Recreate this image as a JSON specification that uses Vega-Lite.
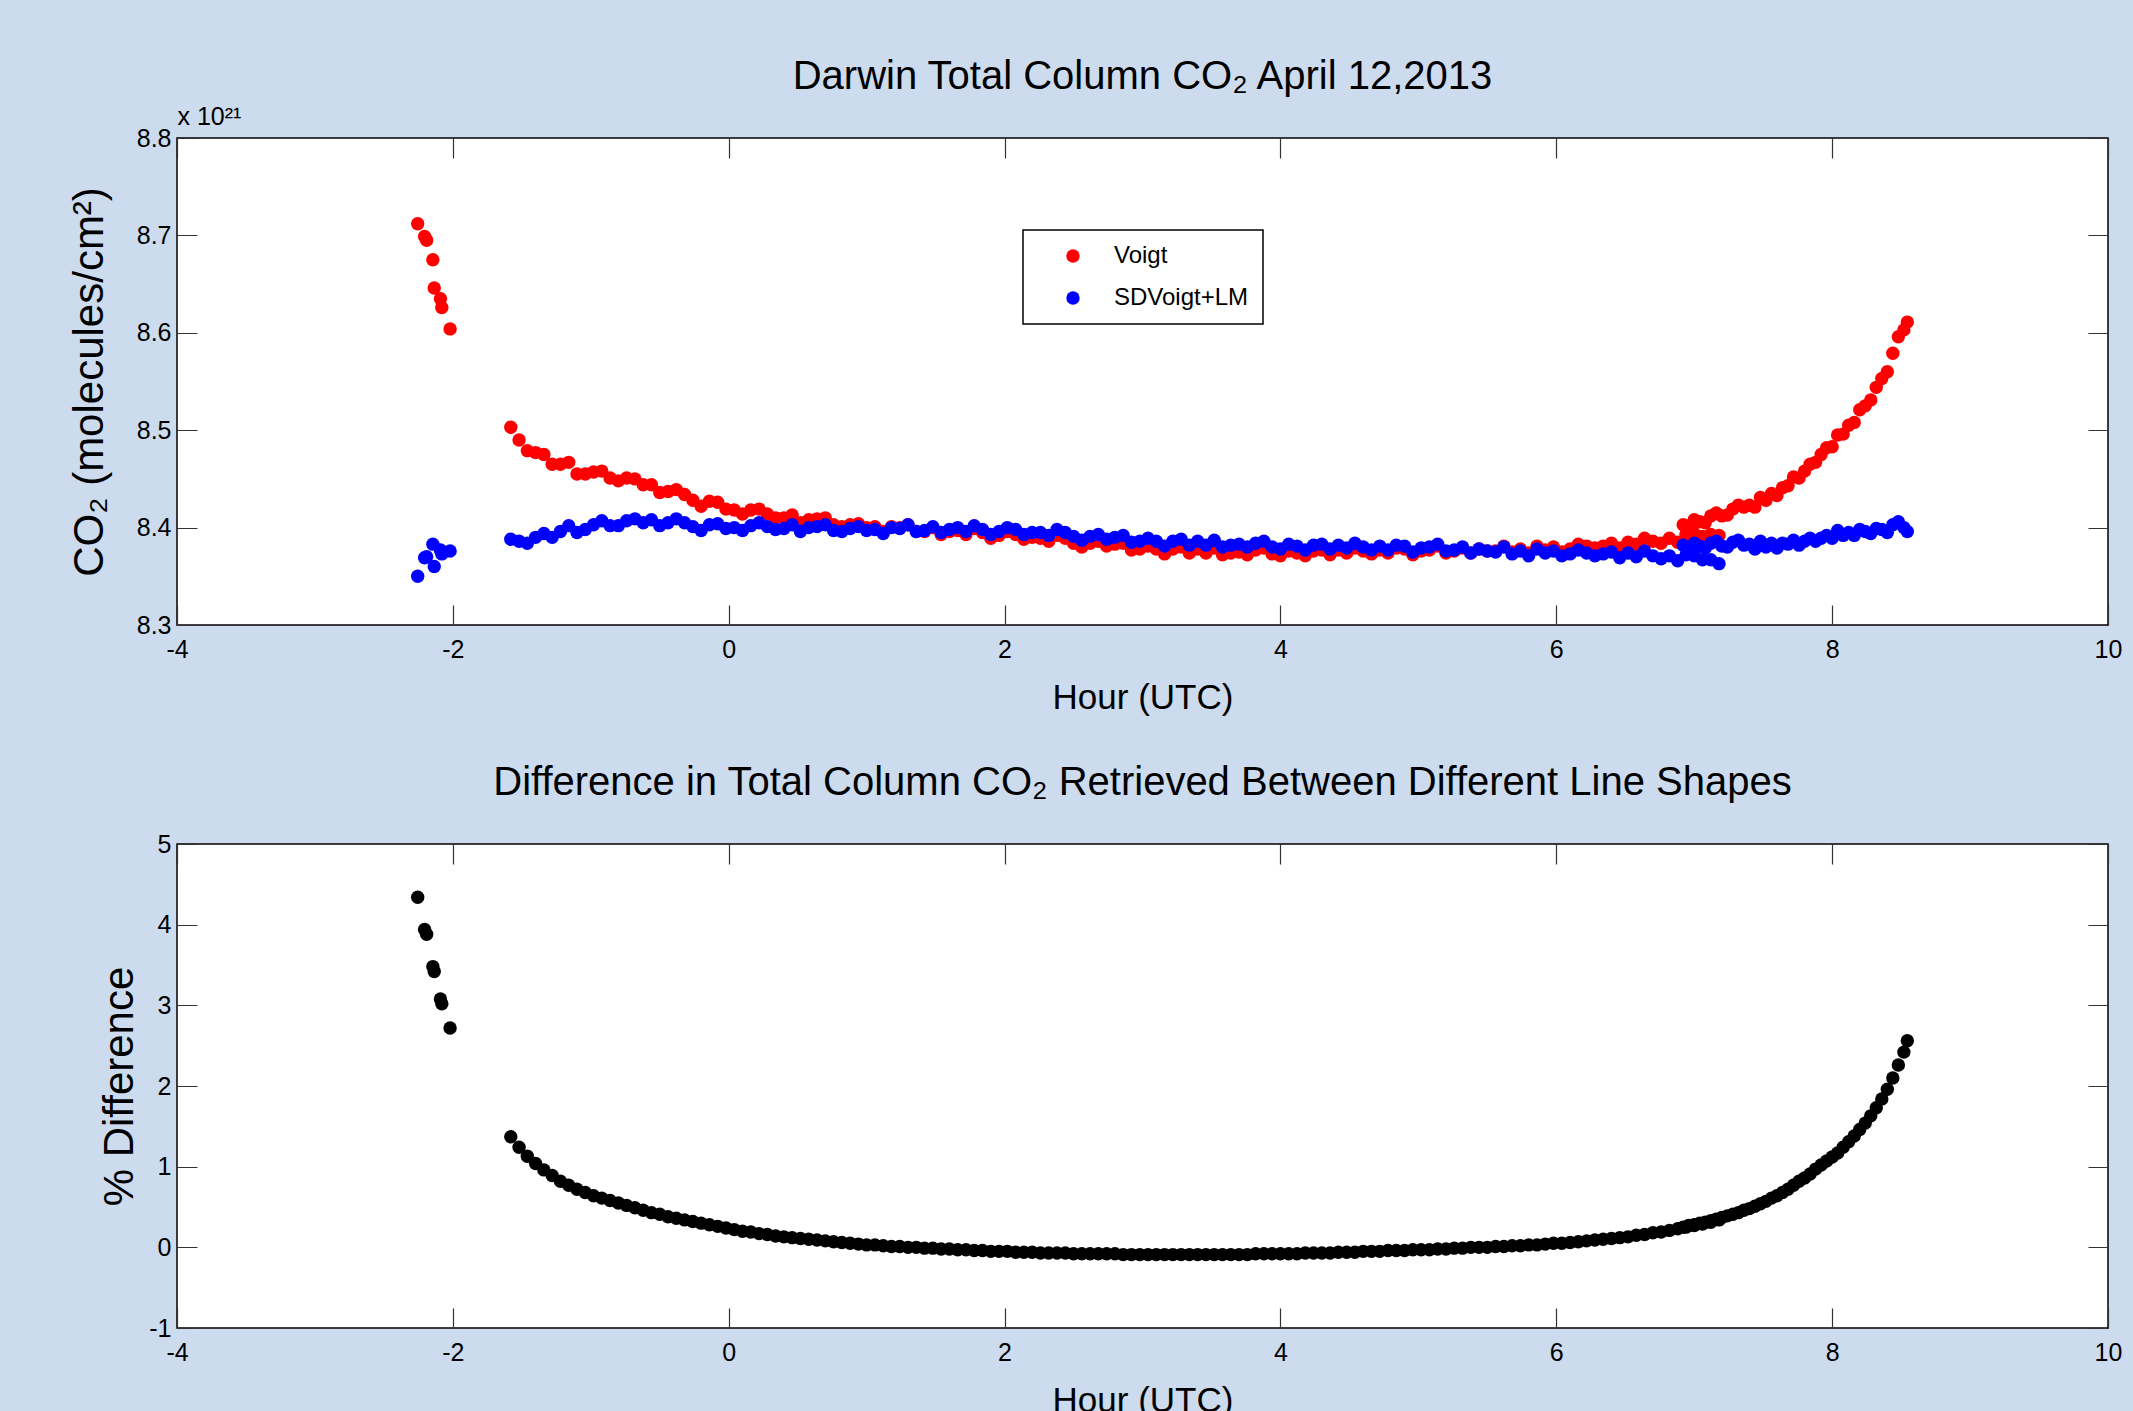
{
  "$schema": "https://vega.github.io/schema/vega-lite/v6.json",
  "background": "#ccdcee",
  "padding": {"left": 67, "top": 56, "right": 10, "bottom": 0},
  "spacing": 46,
  "config": {
    "locale": {"number": {"decimal": ".", "thousands": ",", "grouping": [3], "currency": ["$", ""], "minus": "-"}},
    "font": "Liberation Sans",
    "view": {"stroke": "#000000", "strokeWidth": 1.5, "fill": "#ffffff"},
    "title": {"font": "Liberation Sans", "fontSize": 40, "fontWeight": "normal", "color": "#000000", "anchor": "middle", "frame": "group", "baseline": "alphabetic"},
    "axis": {"domain": false, "ticks": false, "grid": true, "gridColor": "#333333", "gridWidth": 1.2, "gridOpacity": 1, "labelFont": "Liberation Sans", "labelFontSize": 25, "labelColor": "#000000", "labelFlush": false, "labelOverlap": false, "titleColor": "#000000", "titleFontWeight": "normal"},
    "axisX": {"labelPadding": 12, "titleFont": "Liberation Sans", "titleFontSize": 35, "titlePadding": 18},
    "axisY": {"labelPadding": 6, "titleFont": "Liberation Sans", "titleFontSize": 42},
    "legend": {"orient": "none", "legendX": 846, "legendY": 92, "padding": 14, "strokeColor": "#000000", "fillColor": "#ffffff", "strokeWidth": 1.5, "labelFont": "Liberation Sans", "labelFontSize": 24, "labelColor": "#000000", "symbolType": "circle", "symbolSize": 180, "symbolOffset": 24, "labelOffset": 29, "rowPadding": 18, "symbolStrokeWidth": 0}
  },
  "datasets": {
    "voigt": [
      {"h":-2.255,"v":8.712},{"h":-2.205,"v":8.699},{"h":-2.19,"v":8.695},{"h":-2.145,"v":8.675},{"h":-2.135,"v":8.646},{"h":-2.09,"v":8.635},{"h":-2.08,"v":8.626},{"h":-2.02,"v":8.604},
      {"h":-1.58,"v":8.503},{"h":-1.52,"v":8.49},{"h":-1.46,"v":8.479},{"h":-1.4,"v":8.477},{"h":-1.34,"v":8.475},{"h":-1.28,"v":8.465},{"h":-1.22,"v":8.465},{"h":-1.16,"v":8.467},{"h":-1.1,"v":8.455},{"h":-1.04,"v":8.455},
      {"h":-0.98,"v":8.457},{"h":-0.92,"v":8.458},{"h":-0.86,"v":8.451},{"h":-0.8,"v":8.448},{"h":-0.74,"v":8.451},{"h":-0.68,"v":8.45},{"h":-0.62,"v":8.444},{"h":-0.56,"v":8.444},{"h":-0.5,"v":8.436},{"h":-0.44,"v":8.437},
      {"h":-0.38,"v":8.439},{"h":-0.32,"v":8.434},{"h":-0.26,"v":8.428},{"h":-0.2,"v":8.422},{"h":-0.14,"v":8.427},{"h":-0.08,"v":8.426},{"h":-0.02,"v":8.419},{"h":0.04,"v":8.418},{"h":0.1,"v":8.414},{"h":0.16,"v":8.418},
      {"h":0.22,"v":8.419},{"h":0.28,"v":8.414},{"h":0.34,"v":8.41},{"h":0.4,"v":8.41},{"h":0.46,"v":8.413},{"h":0.52,"v":8.405},{"h":0.58,"v":8.408},{"h":0.64,"v":8.409},{"h":0.7,"v":8.41},{"h":0.76,"v":8.403},
      {"h":0.82,"v":8.401},{"h":0.88,"v":8.403},{"h":0.94,"v":8.404},{"h":1.0,"v":8.4},{"h":1.06,"v":8.401},{"h":1.12,"v":8.396},{"h":1.18,"v":8.401},{"h":1.24,"v":8.4},{"h":1.3,"v":8.403},{"h":1.36,"v":8.396},
      {"h":1.42,"v":8.396},{"h":1.48,"v":8.4},{"h":1.54,"v":8.393},{"h":1.6,"v":8.396},{"h":1.66,"v":8.397},{"h":1.72,"v":8.393},{"h":1.78,"v":8.399},{"h":1.84,"v":8.395},{"h":1.9,"v":8.389},{"h":1.96,"v":8.392},
      {"h":2.02,"v":8.396},{"h":2.08,"v":8.393},{"h":2.14,"v":8.388},{"h":2.2,"v":8.39},{"h":2.26,"v":8.389},{"h":2.32,"v":8.386},{"h":2.38,"v":8.392},{"h":2.44,"v":8.389},{"h":2.5,"v":8.384},{"h":2.56,"v":8.38},
      {"h":2.62,"v":8.384},{"h":2.68,"v":8.386},{"h":2.74,"v":8.381},{"h":2.8,"v":8.383},{"h":2.86,"v":8.384},{"h":2.92,"v":8.377},{"h":2.98,"v":8.378},{"h":3.04,"v":8.381},{"h":3.1,"v":8.378},{"h":3.16,"v":8.373},
      {"h":3.22,"v":8.378},{"h":3.28,"v":8.38},{"h":3.34,"v":8.374},{"h":3.4,"v":8.378},{"h":3.46,"v":8.374},{"h":3.52,"v":8.379},{"h":3.58,"v":8.372},{"h":3.64,"v":8.374},{"h":3.7,"v":8.375},{"h":3.76,"v":8.372},
      {"h":3.82,"v":8.377},{"h":3.88,"v":8.379},{"h":3.94,"v":8.373},{"h":4.0,"v":8.371},{"h":4.06,"v":8.376},{"h":4.12,"v":8.374},{"h":4.18,"v":8.371},{"h":4.24,"v":8.376},{"h":4.3,"v":8.377},{"h":4.36,"v":8.372},
      {"h":4.42,"v":8.377},{"h":4.48,"v":8.374},{"h":4.54,"v":8.379},{"h":4.6,"v":8.376},{"h":4.66,"v":8.373},{"h":4.72,"v":8.377},{"h":4.78,"v":8.374},{"h":4.84,"v":8.379},{"h":4.9,"v":8.378},{"h":4.96,"v":8.372},
      {"h":5.02,"v":8.376},{"h":5.08,"v":8.377},{"h":5.14,"v":8.381},{"h":5.2,"v":8.374},{"h":5.26,"v":8.376},{"h":5.32,"v":8.379},{"h":5.38,"v":8.374},{"h":5.44,"v":8.378},{"h":5.5,"v":8.376},{"h":5.56,"v":8.376},
      {"h":5.62,"v":8.381},{"h":5.68,"v":8.375},{"h":5.74,"v":8.378},{"h":5.8,"v":8.374},{"h":5.86,"v":8.381},{"h":5.92,"v":8.377},{"h":5.98,"v":8.38},{"h":6.04,"v":8.375},{"h":6.1,"v":8.378},{"h":6.16,"v":8.383},
      {"h":6.22,"v":8.381},{"h":6.28,"v":8.379},{"h":6.34,"v":8.381},{"h":6.4,"v":8.384},{"h":6.46,"v":8.379},{"h":6.52,"v":8.385},{"h":6.58,"v":8.383},{"h":6.64,"v":8.389},{"h":6.7,"v":8.386},{"h":6.76,"v":8.384},
      {"h":6.82,"v":8.389},{"h":6.88,"v":8.385},{"h":6.94,"v":8.393},{"h":7.0,"v":8.394},{"h":7.06,"v":8.391},{"h":7.12,"v":8.393},{"h":7.18,"v":8.392},
      {"h":6.92,"v":8.403},{"h":6.96,"v":8.402},{"h":7.0,"v":8.408},{"h":7.04,"v":8.406},{"h":7.08,"v":8.405},{"h":7.12,"v":8.412},{"h":7.16,"v":8.415},{"h":7.2,"v":8.412},{"h":7.24,"v":8.413},{"h":7.28,"v":8.419},
      {"h":7.32,"v":8.423},{"h":7.36,"v":8.421},{"h":7.4,"v":8.423},{"h":7.44,"v":8.421},{"h":7.48,"v":8.431},{"h":7.52,"v":8.428},{"h":7.56,"v":8.435},{"h":7.6,"v":8.433},{"h":7.64,"v":8.441},{"h":7.68,"v":8.443},
      {"h":7.72,"v":8.452},{"h":7.76,"v":8.451},{"h":7.8,"v":8.458},{"h":7.84,"v":8.465},{"h":7.88,"v":8.467},{"h":7.92,"v":8.475},{"h":7.96,"v":8.482},{"h":8.0,"v":8.483},{"h":8.04,"v":8.495},{"h":8.08,"v":8.496},
      {"h":8.12,"v":8.505},{"h":8.16,"v":8.508},{"h":8.2,"v":8.521},{"h":8.24,"v":8.525},{"h":8.28,"v":8.531},{"h":8.32,"v":8.544},{"h":8.36,"v":8.553},{"h":8.4,"v":8.56},{"h":8.44,"v":8.579},{"h":8.48,"v":8.596},
      {"h":8.52,"v":8.603},{"h":8.545,"v":8.611}
    ],
    "sdvoigt": [
      {"h":-2.255,"v":8.35},{"h":-2.205,"v":8.369},{"h":-2.19,"v":8.37},{"h":-2.145,"v":8.383},{"h":-2.135,"v":8.36},{"h":-2.09,"v":8.377},{"h":-2.08,"v":8.373},{"h":-2.02,"v":8.376},
      {"h":-1.58,"v":8.388},{"h":-1.52,"v":8.386},{"h":-1.46,"v":8.384},{"h":-1.4,"v":8.39},{"h":-1.34,"v":8.394},{"h":-1.28,"v":8.39},{"h":-1.22,"v":8.396},{"h":-1.16,"v":8.402},{"h":-1.1,"v":8.395},{"h":-1.04,"v":8.398},
      {"h":-0.98,"v":8.403},{"h":-0.92,"v":8.407},{"h":-0.86,"v":8.402},{"h":-0.8,"v":8.402},{"h":-0.74,"v":8.407},{"h":-0.68,"v":8.409},{"h":-0.62,"v":8.405},{"h":-0.56,"v":8.408},{"h":-0.5,"v":8.402},{"h":-0.44,"v":8.405},
      {"h":-0.38,"v":8.409},{"h":-0.32,"v":8.405},{"h":-0.26,"v":8.401},{"h":-0.2,"v":8.397},{"h":-0.14,"v":8.403},{"h":-0.08,"v":8.404},{"h":-0.02,"v":8.399},{"h":0.04,"v":8.4},{"h":0.1,"v":8.397},{"h":0.16,"v":8.402},
      {"h":0.22,"v":8.405},{"h":0.28,"v":8.401},{"h":0.34,"v":8.398},{"h":0.4,"v":8.399},{"h":0.46,"v":8.403},{"h":0.52,"v":8.396},{"h":0.58,"v":8.4},{"h":0.64,"v":8.401},{"h":0.7,"v":8.403},{"h":0.76,"v":8.397},
      {"h":0.82,"v":8.396},{"h":0.88,"v":8.399},{"h":0.94,"v":8.401},{"h":1.0,"v":8.397},{"h":1.06,"v":8.398},{"h":1.12,"v":8.394},{"h":1.18,"v":8.4},{"h":1.24,"v":8.399},{"h":1.3,"v":8.403},{"h":1.36,"v":8.396},
      {"h":1.42,"v":8.397},{"h":1.48,"v":8.401},{"h":1.54,"v":8.395},{"h":1.6,"v":8.398},{"h":1.66,"v":8.4},{"h":1.72,"v":8.396},{"h":1.78,"v":8.402},{"h":1.84,"v":8.398},{"h":1.9,"v":8.393},{"h":1.96,"v":8.396},
      {"h":2.02,"v":8.4},{"h":2.08,"v":8.398},{"h":2.14,"v":8.393},{"h":2.2,"v":8.395},{"h":2.26,"v":8.395},{"h":2.32,"v":8.392},{"h":2.38,"v":8.398},{"h":2.44,"v":8.395},{"h":2.5,"v":8.391},{"h":2.56,"v":8.387},
      {"h":2.62,"v":8.391},{"h":2.68,"v":8.393},{"h":2.74,"v":8.388},{"h":2.8,"v":8.39},{"h":2.86,"v":8.392},{"h":2.92,"v":8.385},{"h":2.98,"v":8.386},{"h":3.04,"v":8.389},{"h":3.1,"v":8.386},{"h":3.16,"v":8.381},
      {"h":3.22,"v":8.386},{"h":3.28,"v":8.388},{"h":3.34,"v":8.382},{"h":3.4,"v":8.386},{"h":3.46,"v":8.382},{"h":3.52,"v":8.387},{"h":3.58,"v":8.38},{"h":3.64,"v":8.382},{"h":3.7,"v":8.383},{"h":3.76,"v":8.38},
      {"h":3.82,"v":8.384},{"h":3.88,"v":8.386},{"h":3.94,"v":8.38},{"h":4.0,"v":8.378},{"h":4.06,"v":8.383},{"h":4.12,"v":8.381},{"h":4.18,"v":8.377},{"h":4.24,"v":8.382},{"h":4.3,"v":8.383},{"h":4.36,"v":8.378},
      {"h":4.42,"v":8.382},{"h":4.48,"v":8.379},{"h":4.54,"v":8.384},{"h":4.6,"v":8.38},{"h":4.66,"v":8.377},{"h":4.72,"v":8.381},{"h":4.78,"v":8.377},{"h":4.84,"v":8.382},{"h":4.9,"v":8.381},{"h":4.96,"v":8.375},
      {"h":5.02,"v":8.379},{"h":5.08,"v":8.38},{"h":5.14,"v":8.383},{"h":5.2,"v":8.376},{"h":5.26,"v":8.377},{"h":5.32,"v":8.38},{"h":5.38,"v":8.374},{"h":5.44,"v":8.378},{"h":5.5,"v":8.376},{"h":5.56,"v":8.375},
      {"h":5.62,"v":8.38},{"h":5.68,"v":8.373},{"h":5.74,"v":8.376},{"h":5.8,"v":8.371},{"h":5.86,"v":8.378},{"h":5.92,"v":8.374},{"h":5.98,"v":8.376},{"h":6.04,"v":8.371},{"h":6.1,"v":8.373},{"h":6.16,"v":8.377},
      {"h":6.22,"v":8.374},{"h":6.28,"v":8.371},{"h":6.34,"v":8.373},{"h":6.4,"v":8.375},{"h":6.46,"v":8.369},{"h":6.52,"v":8.374},{"h":6.58,"v":8.37},{"h":6.64,"v":8.376},{"h":6.7,"v":8.371},{"h":6.76,"v":8.368},
      {"h":6.82,"v":8.371},{"h":6.88,"v":8.366},{"h":6.94,"v":8.372},{"h":7.0,"v":8.371},{"h":7.06,"v":8.367},{"h":7.12,"v":8.367},{"h":7.18,"v":8.363},
      {"h":6.92,"v":8.382},{"h":6.96,"v":8.379},{"h":7.0,"v":8.384},{"h":7.04,"v":8.381},{"h":7.08,"v":8.379},{"h":7.12,"v":8.384},{"h":7.16,"v":8.386},{"h":7.2,"v":8.381},{"h":7.24,"v":8.38},{"h":7.28,"v":8.385},
      {"h":7.32,"v":8.387},{"h":7.36,"v":8.382},{"h":7.4,"v":8.383},{"h":7.44,"v":8.378},{"h":7.48,"v":8.386},{"h":7.52,"v":8.38},{"h":7.56,"v":8.384},{"h":7.6,"v":8.379},{"h":7.64,"v":8.384},{"h":7.68,"v":8.383},
      {"h":7.72,"v":8.387},{"h":7.76,"v":8.382},{"h":7.8,"v":8.386},{"h":7.84,"v":8.389},{"h":7.88,"v":8.386},{"h":7.92,"v":8.389},{"h":7.96,"v":8.392},{"h":8.0,"v":8.389},{"h":8.04,"v":8.397},{"h":8.08,"v":8.392},
      {"h":8.12,"v":8.395},{"h":8.16,"v":8.392},{"h":8.2,"v":8.398},{"h":8.24,"v":8.396},{"h":8.28,"v":8.394},{"h":8.32,"v":8.399},{"h":8.36,"v":8.398},{"h":8.4,"v":8.395},{"h":8.44,"v":8.403},{"h":8.48,"v":8.406},
      {"h":8.52,"v":8.4},{"h":8.545,"v":8.396}
    ],
    "diff": [
      {"h":-2.255,"v":4.34},{"h":-2.205,"v":3.94},{"h":-2.19,"v":3.88},{"h":-2.145,"v":3.48},{"h":-2.135,"v":3.42},{"h":-2.09,"v":3.08},{"h":-2.08,"v":3.02},{"h":-2.02,"v":2.72},
      {"h":-1.58,"v":1.37},{"h":-1.52,"v":1.24},{"h":-1.46,"v":1.13},{"h":-1.4,"v":1.04},{"h":-1.34,"v":0.96},{"h":-1.28,"v":0.89},{"h":-1.22,"v":0.82},{"h":-1.16,"v":0.77},{"h":-1.1,"v":0.72},{"h":-1.04,"v":0.68},
      {"h":-0.98,"v":0.64},{"h":-0.92,"v":0.61},{"h":-0.86,"v":0.58},{"h":-0.8,"v":0.55},{"h":-0.74,"v":0.52},{"h":-0.68,"v":0.49},{"h":-0.62,"v":0.46},{"h":-0.56,"v":0.43},{"h":-0.5,"v":0.41},{"h":-0.44,"v":0.38},
      {"h":-0.38,"v":0.36},{"h":-0.32,"v":0.34},{"h":-0.26,"v":0.32},{"h":-0.2,"v":0.3},{"h":-0.14,"v":0.28},{"h":-0.08,"v":0.26},{"h":-0.02,"v":0.24},{"h":0.04,"v":0.22},{"h":0.1,"v":0.2},{"h":0.16,"v":0.19},
      {"h":0.22,"v":0.17},{"h":0.28,"v":0.16},{"h":0.34,"v":0.14},{"h":0.4,"v":0.13},{"h":0.46,"v":0.12},{"h":0.52,"v":0.11},{"h":0.58,"v":0.1},{"h":0.64,"v":0.09},{"h":0.7,"v":0.08},{"h":0.76,"v":0.07},
      {"h":0.82,"v":0.06},{"h":0.88,"v":0.05},{"h":0.94,"v":0.04},{"h":1.0,"v":0.03},{"h":1.06,"v":0.03},{"h":1.12,"v":0.02},{"h":1.18,"v":0.01},{"h":1.24,"v":0.01},{"h":1.3,"v":0.0},{"h":1.36,"v":0.0},
      {"h":1.42,"v":-0.01},{"h":1.48,"v":-0.01},{"h":1.54,"v":-0.02},{"h":1.6,"v":-0.02},{"h":1.66,"v":-0.03},{"h":1.72,"v":-0.03},{"h":1.78,"v":-0.04},{"h":1.84,"v":-0.04},{"h":1.9,"v":-0.05},{"h":1.96,"v":-0.05},
      {"h":2.02,"v":-0.05},{"h":2.08,"v":-0.06},{"h":2.14,"v":-0.06},{"h":2.2,"v":-0.06},{"h":2.26,"v":-0.07},{"h":2.32,"v":-0.07},{"h":2.38,"v":-0.07},{"h":2.44,"v":-0.07},{"h":2.5,"v":-0.08},{"h":2.56,"v":-0.08},
      {"h":2.62,"v":-0.08},{"h":2.68,"v":-0.08},{"h":2.74,"v":-0.08},{"h":2.8,"v":-0.08},{"h":2.86,"v":-0.09},{"h":2.92,"v":-0.09},{"h":2.98,"v":-0.09},{"h":3.04,"v":-0.09},{"h":3.1,"v":-0.09},{"h":3.16,"v":-0.09},
      {"h":3.22,"v":-0.09},{"h":3.28,"v":-0.09},{"h":3.34,"v":-0.09},{"h":3.4,"v":-0.09},{"h":3.46,"v":-0.09},{"h":3.52,"v":-0.09},{"h":3.58,"v":-0.09},{"h":3.64,"v":-0.09},{"h":3.7,"v":-0.09},{"h":3.76,"v":-0.09},
      {"h":3.82,"v":-0.08},{"h":3.88,"v":-0.08},{"h":3.94,"v":-0.08},{"h":4.0,"v":-0.08},{"h":4.06,"v":-0.08},{"h":4.12,"v":-0.08},{"h":4.18,"v":-0.07},{"h":4.24,"v":-0.07},{"h":4.3,"v":-0.07},{"h":4.36,"v":-0.07},
      {"h":4.42,"v":-0.06},{"h":4.48,"v":-0.06},{"h":4.54,"v":-0.06},{"h":4.6,"v":-0.05},{"h":4.66,"v":-0.05},{"h":4.72,"v":-0.05},{"h":4.78,"v":-0.04},{"h":4.84,"v":-0.04},{"h":4.9,"v":-0.04},{"h":4.96,"v":-0.03},
      {"h":5.02,"v":-0.03},{"h":5.08,"v":-0.03},{"h":5.14,"v":-0.02},{"h":5.2,"v":-0.02},{"h":5.26,"v":-0.01},{"h":5.32,"v":-0.01},{"h":5.38,"v":0.0},{"h":5.44,"v":0.0},{"h":5.5,"v":0.0},{"h":5.56,"v":0.01},
      {"h":5.62,"v":0.01},{"h":5.68,"v":0.02},{"h":5.74,"v":0.02},{"h":5.8,"v":0.03},{"h":5.86,"v":0.03},{"h":5.92,"v":0.04},{"h":5.98,"v":0.05},{"h":6.04,"v":0.05},{"h":6.1,"v":0.06},{"h":6.16,"v":0.07},
      {"h":6.22,"v":0.08},{"h":6.28,"v":0.09},{"h":6.34,"v":0.1},{"h":6.4,"v":0.11},{"h":6.46,"v":0.12},{"h":6.52,"v":0.13},{"h":6.58,"v":0.15},{"h":6.64,"v":0.16},{"h":6.7,"v":0.18},{"h":6.76,"v":0.19},
      {"h":6.82,"v":0.21},{"h":6.88,"v":0.23},{"h":6.94,"v":0.25},{"h":7.0,"v":0.27},{"h":7.06,"v":0.29},{"h":7.12,"v":0.31},{"h":7.18,"v":0.34},
      {"h":6.92,"v":0.25},{"h":6.96,"v":0.27},{"h":7.0,"v":0.28},{"h":7.04,"v":0.3},{"h":7.08,"v":0.31},{"h":7.12,"v":0.33},{"h":7.16,"v":0.35},{"h":7.2,"v":0.37},{"h":7.24,"v":0.39},{"h":7.28,"v":0.41},
      {"h":7.32,"v":0.43},{"h":7.36,"v":0.46},{"h":7.4,"v":0.48},{"h":7.44,"v":0.51},{"h":7.48,"v":0.54},{"h":7.52,"v":0.57},{"h":7.56,"v":0.61},{"h":7.6,"v":0.64},{"h":7.64,"v":0.68},{"h":7.68,"v":0.72},
      {"h":7.72,"v":0.77},{"h":7.76,"v":0.82},{"h":7.8,"v":0.86},{"h":7.84,"v":0.91},{"h":7.88,"v":0.97},{"h":7.92,"v":1.02},{"h":7.96,"v":1.07},{"h":8.0,"v":1.12},{"h":8.04,"v":1.17},{"h":8.08,"v":1.24},
      {"h":8.12,"v":1.31},{"h":8.16,"v":1.38},{"h":8.2,"v":1.46},{"h":8.24,"v":1.54},{"h":8.28,"v":1.63},{"h":8.32,"v":1.73},{"h":8.36,"v":1.84},{"h":8.4,"v":1.96},{"h":8.44,"v":2.1},{"h":8.48,"v":2.26},
      {"h":8.52,"v":2.42},{"h":8.545,"v":2.56}
    ]
  },
  "vconcat": [
    {
      "width": 1931,
      "height": 487,
      "title": {"text": "Darwin Total Column CO₂ April 12,2013", "offset": 7},
      "encoding": {
        "x": {"field": "h", "type": "quantitative", "scale": {"domain": [-4, 10], "nice": false, "zero": false},
              "axis": {"title": "Hour (UTC)", "values": [-4, -2, 0, 2, 4, 6, 8, 10], "format": "d", "gridDash": [20, 447, 20, 3000]}},
        "y": {"field": "v", "type": "quantitative", "scale": {"domain": [8.3, 8.8], "nice": false, "zero": false},
              "axis": {"title": "CO₂ (molecules/cm²)", "values": [8.3, 8.4, 8.5, 8.6, 8.7, 8.8], "format": ".1f", "gridDash": [20, 1891, 20, 4000], "titlePadding": 25}}
      },
      "layer": [
        {
          "data": {"name": "voigt"},
          "mark": {"type": "point", "filled": true, "size": 180, "opacity": 1},
          "encoding": {
            "color": {"datum": "Voigt", "type": "nominal", "scale": {"domain": ["Voigt", "SDVoigt+LM"], "range": ["#ff0000", "#0000ff"]}, "legend": {"title": null}}
          }
        },
        {
          "data": {"name": "sdvoigt"},
          "mark": {"type": "point", "filled": true, "size": 180, "opacity": 1},
          "encoding": {
            "x": {"field": "h", "type": "quantitative", "scale": {"domain": [-4, 10], "nice": false, "zero": false},
                  "axis": {"orient": "top", "labels": false, "grid": false, "ticks": false, "domain": false, "title": "x 10²¹", "titleAnchor": "start", "titleAlign": "left", "titleBaseline": "alphabetic", "titlePadding": 14, "titleFontSize": 25, "titleFont": "Liberation Sans"}},
            "color": {"datum": "SDVoigt+LM", "type": "nominal", "legend": {"title": null}}
          }
        }
      ],
      "resolve": {"axis": {"x": "independent"}}
    },
    {
      "width": 1931,
      "height": 484,
      "title": {"text": "Difference in Total Column CO₂ Retrieved Between Different Line Shapes", "offset": 29},
      "data": {"name": "diff"},
      "mark": {"type": "point", "filled": true, "size": 180, "opacity": 1, "color": "#000000"},
      "encoding": {
        "x": {"field": "h", "type": "quantitative", "scale": {"domain": [-4, 10], "nice": false, "zero": false},
              "axis": {"title": "Hour (UTC)", "values": [-4, -2, 0, 2, 4, 6, 8, 10], "format": "d", "gridDash": [20, 444, 20, 3000]}},
        "y": {"field": "v", "type": "quantitative", "scale": {"domain": [-1, 5], "nice": false, "zero": false},
              "axis": {"title": "% Difference", "values": [-1, 0, 1, 2, 3, 4, 5], "format": "d", "gridDash": [20, 1891, 20, 4000], "titlePadding": 7}}
      }
    }
  ]
}
